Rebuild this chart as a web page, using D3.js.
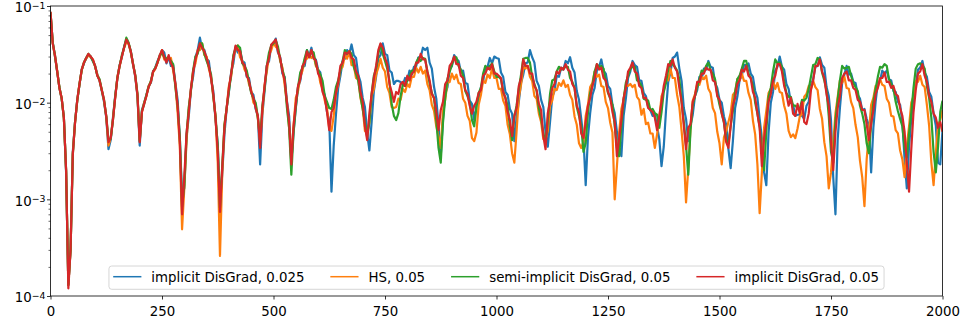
<!DOCTYPE html>
<html>
<head>
<meta charset="utf-8">
<script src="https://cdn.jsdelivr.net/npm/d3@7"></script>
<style>
  body { margin: 0; background: #fff; }
  svg { font-family: "DejaVu Sans", sans-serif; }
</style>
</head>
<body>
<svg id="chart" width="963" height="325"></svg>
<script>
// sample spacing of the series (one value every tStep units of x)
const tStep = 5;

// implicit DisGrad, 0.025 (blue)
const implicit025 = [
  .087,.042,.030,.021,.0142,.011,.0070,.0019,.00013,.00031,
  .0031,.0063,.0107,.0153,.022,.0255,.029,.031,.030,.027,
  .024,.0195,.0168,.0132,.0102,.0070,.0033,.0041,.0070,.0117,
  .018,.0245,.0295,.038,.045,.041,.034,.0255,.0185,.0117,
  .0036,.0084,.0100,.012,.0149,.016,.021,.023,.027,.030,
  .035,.033,.0255,.030,.024,.0245,.016,.0107,.0043,.0011,
  .0013,.0044,.0072,.0139,.019,.0295,.035,.047,.036,.035,
  .0285,.027,.0175,.0132,.0066,.0037,.00097,.0018,.0047,.0088,
  .0129,.0205,.0255,.038,.033,.035,.027,.026,.0185,.018,
  .0129,.012,.0086,.0072,.0023,.0075,.0132,.024,.027,.039,
  .041,.046,.033,.0295,.020,.0185,.0105,.0073,.0025,.0049,
  .0088,.0145,.0168,.0235,.024,.035,.030,.037,.0285,.028,
  .022,.0205,.0139,.012,.0080,.0065,.0012,.0036,.0075,.0142,
  .019,.027,.0285,.035,.032,.040,.031,.029,.0195,.0164,
  .0112,.009,.0049,.0032,.0063,.0132,.0185,.029,.031,.041,
  .032,.031,.0215,.0205,.0156,.0168,.0168,.0164,.0153,.018,
  .017,.0215,.0195,.0235,.024,.0295,.0295,.037,.035,.037,
  .026,.0225,.0145,.011,.0058,.0028,.0068,.0123,.0145,.022,
  .024,.031,.0285,.027,.021,.0215,.016,.0156,.0105,.0097,
  .0066,.0095,.0105,.0145,.0164,.0235,.0235,.029,.0255,.030,
  .029,.0285,.0205,.0185,.0129,.012,.0086,.0077,.0040,.0070,
  .0102,.016,.0195,.0255,.026,.035,.0295,.026,.0168,.0149,
  .0107,.009,.0049,.0035,.0063,.0115,.0132,.019,.0185,.023,
  .022,.027,.0255,.0295,.023,.0205,.0132,.0107,.0068,.0043,
  .0014,.0044,.0078,.012,.0142,.0215,.0235,.028,.0215,.020,
  .0149,.0139,.0095,.0078,.0050,.0035,.0028,.0073,.011,.018,
  .021,.027,.0245,.0235,.017,.0168,.0126,.0117,.009,.0084,
  .0073,.0075,.0057,.0042,.0022,.0035,.0082,.0164,.0205,.029,
  .030,.033,.0225,.0168,.0088,.0068,.0040,.0058,.0075,.0117,
  .0135,.0185,.0175,.0225,.022,.027,.0235,.023,.016,.0142,
  .0107,.0100,.0072,.0059,.0033,.0021,.0040,.0088,.0115,.017,
  .019,.0245,.0245,.0255,.020,.0185,.0132,.0112,.0068,.0043,
  .0019,.0014,.0049,.0100,.0129,.0215,.0235,.030,.0235,.022,
  .0156,.0139,.0100,.0095,.0073,.0075,.0075,.0073,.0068,.0093,
  .0102,.0153,.0175,.0235,.024,.0295,.0245,.023,.0145,.0117,
  .0066,.0017,.00070,.0042,.0088,.016,.0195,.024,.0195,.020,
  .0164,.016,.012,.011,.0084,.0086,.0068,.0058,.0019,.0055,
  .0102,.016,.0168,.0215,.020,.0215,.0175,.017,.0132,.0129,
  .0102,.0095,.0062,.0026,.0013,.0035,.0068,.0117,.0145,.022,
  .023,.027,.0205,.0185,.0129,.0115,.0078,.0058,.0024,.0023,
  .0052
];

// HS, 0.05 (orange)
const hs05 = [
  .087,.041,.030,.0215,.0142,.0112,.0068,.0020,.00013,.00030,
  .0030,.0062,.0105,.0156,.0215,.026,.0285,.031,.0295,.028,
  .0235,.0195,.017,.0135,.0105,.0072,.0036,.0043,.0068,.0112,
  .0185,.024,.030,.037,.042,.041,.033,.0255,.019,.012,
  .0041,.0080,.0100,.0117,.0149,.0164,.0205,.0225,.026,.0295,
  .035,.028,.029,.0285,.029,.0215,.0156,.0080,.0035,.00049,
  .0013,.0040,.0086,.0139,.022,.0255,.035,.035,.041,.031,
  .030,.0225,.0185,.0115,.0073,.0024,.00026,.0018,.0059,.0088,
  .0149,.0185,.0295,.036,.039,.0295,.027,.022,.0205,.0156,
  .0135,.0100,.0095,.0068,.0041,.0078,.0153,.021,.031,.035,
  .042,.038,.036,.027,.023,.0153,.0100,.0055,.0028,.0058,
  .0112,.0132,.0185,.0215,.028,.0285,.031,.029,.031,.024,
  .022,.016,.0139,.0105,.0088,.0054,.0051,.0073,.0126,.0156,
  .022,.0235,.031,.0285,.034,.0245,.0245,.018,.0175,.0112,
  .0088,.0051,.0049,.0062,.0117,.0139,.0195,.023,.0285,.023,
  .021,.0145,.0126,.009,.0088,.009,.011,.0107,.0139,.0129,
  .0156,.0145,.0185,.0185,.023,.0205,.0235,.020,.0215,.0156,
  .0135,.0095,.0082,.0057,.0045,.0034,.0082,.0107,.016,.0164,
  .020,.0175,.0195,.016,.0156,.011,.0100,.0073,.0065,.0043,
  .0040,.0049,.0095,.012,.017,.016,.0195,.018,.0225,.018,
  .018,.0139,.0139,.0105,.0093,.0059,.0047,.0030,.0024,.0050,
  .0112,.0153,.0235,.0225,.024,.0185,.0168,.0117,.011,.0077,
  .0063,.0042,.0042,.0051,.0093,.0105,.0139,.0135,.016,.0149,
  .017,.0145,.0153,.012,.0107,.0072,.0059,.0038,.0034,.0039,
  .0073,.0095,.0145,.016,.021,.0185,.0195,.0149,.0145,.0102,
  .0088,.0062,.0049,.0010,.0022,.0049,.0086,.0107,.0153,.0149,
  .0156,.0145,.0153,.0115,.0107,.0075,.0086,.0060,.0062,.0048,
  .0048,.0034,.0047,.0068,.0117,.0132,.0175,.017,.0225,.018,
  .018,.012,.009,.0051,.0028,.00093,.0021,.0055,.0105,.0123,
  .0156,.0153,.0185,.0175,.019,.0139,.0126,.0088,.0078,.0050,
  .0038,.0023,.0044,.0051,.0063,.0078,.012,.0129,.0175,.017,
  .020,.0168,.0168,.0126,.0107,.0065,.0047,.0023,.00072,.0019,
  .0055,.0082,.0126,.0139,.017,.0139,.016,.0129,.0126,.0093,
  .0077,.0051,.0044,.0047,.0043,.0054,.0072,.0077,.0115,.0123,
  .0149,.0139,.0168,.0145,.0135,.0086,.0068,.0039,.0028,.0013,
  .0019,.0038,.0078,.0115,.017,.016,.0185,.0142,.0139,.0102,
  .0088,.0059,.0044,.0025,.0017,.00085,.0026,.0048,.0095,.0112,
  .0149,.0145,.0175,.0153,.0149,.011,.0100,.0073,.0072,.0052,
  .0048,.0032,.0026,.0017,.0036,.0057,.0100,.0117,.0168,.0164,
  .019,.0153,.0145,.0095,.0058,.0024,.0014,.0030,.0059,.0066,
  .0084
];

// semi-implicit DisGrad, 0.05 (green)
const semiImplicit05 = [
  .085,.042,.031,.021,.0145,.011,.0070,.0020,.00013,.00030,
  .0029,.0063,.0105,.0156,.022,.026,.029,.032,.030,.027,
  .024,.019,.0175,.0135,.0107,.0073,.0041,.0042,.0066,.0115,
  .018,.024,.031,.037,.047,.042,.034,.025,.0195,.0123,
  .0040,.0082,.0097,.012,.0145,.0168,.021,.023,.026,.031,
  .033,.0295,.0285,.029,.027,.025,.0145,.0093,.0044,.00084,
  .0014,.0047,.009,.0135,.022,.030,.032,.041,.041,.032,
  .027,.0235,.0195,.0117,.0073,.0036,.00082,.0022,.0059,.0088,
  .0132,.0195,.031,.037,.039,.037,.0255,.024,.0215,.0164,
  .0126,.011,.0100,.0070,.0041,.0093,.0139,.024,.033,.039,
  .041,.044,.038,.028,.022,.018,.009,.0055,.0018,.0050,
  .009,.0145,.0205,.023,.029,.035,.0295,.034,.033,.025,
  .0215,.0195,.0168,.0117,.0102,.0088,.0086,.0107,.0145,.017,
  .0215,.027,.035,.032,.034,.032,.0235,.020,.0168,.0117,
  .0086,.0062,.0044,.0063,.0123,.019,.0225,.032,.040,.032,
  .027,.0225,.0168,.0097,.0073,.0066,.0078,.0117,.0153,.0149,
  .0168,.0185,.0215,.021,.026,.029,.027,.029,.0285,.021,
  .016,.0126,.011,.0066,.0034,.0024,.0062,.0112,.0175,.021,
  .0245,.0295,.0295,.024,.022,.019,.0132,.0117,.0100,.0066,
  .0057,.009,.0126,.0142,.020,.024,.0225,.024,.0255,.021,
  .0185,.0185,.0175,.0129,.0112,.0093,.0057,.0041,.0072,.0093,
  .0139,.0195,.0285,.029,.029,.026,.0185,.0156,.0132,.0088,
  .0068,.0049,.0038,.0066,.0123,.017,.0175,.021,.0235,.022,
  .0225,.0235,.0235,.018,.0164,.0142,.009,.0073,.0057,.0031,
  .0038,.0078,.0126,.0149,.021,.025,.0235,.024,.0225,.0164,
  .0126,.011,.0095,.0058,.0034,.0028,.0057,.0107,.016,.019,
  .0225,.0235,.0235,.017,.0164,.0149,.011,.0107,.0105,.0084,
  .0086,.0078,.0075,.0055,.0080,.0129,.016,.022,.027,.025,
  .0235,.0215,.0175,.0102,.0063,.0036,.0018,.0052,.0095,.0117,
  .0145,.0175,.0215,.021,.024,.026,.0215,.020,.0175,.0123,
  .0095,.0078,.0062,.0041,.0038,.0058,.0082,.0129,.0175,.019,
  .0225,.027,.027,.020,.018,.0149,.0100,.0077,.0057,.0031,
  .0020,.0051,.0115,.0142,.021,.028,.0255,.026,.0235,.0164,
  .0126,.0115,.0115,.0093,.0093,.0088,.0086,.0107,.0105,.0112,
  .0139,.0185,.0245,.025,.029,.028,.0205,.017,.0132,.0073,
  .0031,.0024,.0065,.0107,.017,.024,.0225,.023,.0235,.019,
  .016,.0145,.0132,.0093,.0077,.0060,.0038,.0030,.0059,.0102,
  .0139,.0185,.0235,.023,.025,.024,.0175,.0156,.0139,.0102,
  .0082,.0068,.0057,.0034,.0027,.0048,.0078,.0142,.0225,.025,
  .0255,.0245,.0225,.0149,.0112,.0070,.0031,.0019,.0035,.0080,
  .0105
];

// implicit DisGrad, 0.05 (red)
const implicit05 = [
  .087,.041,.031,.021,.0142,.0112,.0070,.0020,.00012,.00030,
  .0029,.0062,.0107,.0156,.022,.026,.029,.032,.030,.028,
  .024,.019,.017,.0135,.0107,.0072,.0039,.0043,.0066,.0112,
  .018,.024,.030,.037,.045,.041,.034,.025,.019,.012,
  .0039,.0080,.0097,.0117,.0145,.0164,.021,.0225,.026,.031,
  .035,.0295,.026,.031,.0255,.023,.0156,.0093,.0039,.00070,
  .0017,.0048,.0080,.0142,.021,.028,.034,.041,.037,.034,
  .029,.024,.018,.0123,.0070,.0031,.00074,.0021,.0055,.0088,
  .0142,.020,.029,.039,.035,.034,.026,.0245,.019,.017,
  .0129,.0112,.0088,.0073,.0034,.0088,.0149,.024,.029,.040,
  .042,.045,.034,.029,.021,.017,.0102,.0063,.0023,.0058,
  .0097,.0149,.0175,.024,.026,.034,.0295,.035,.029,.027,
  .020,.018,.0129,.0112,.0080,.0052,.0080,.0088,.0126,.0164,
  .024,.026,.033,.032,.034,.029,.028,.021,.019,.0129,
  .0102,.0057,.0041,.0078,.0123,.018,.024,.035,.041,.037,
  .029,.025,.0156,.0129,.0102,.0129,.0123,.0156,.0164,.0149,
  .019,.017,.020,.021,.026,.026,.032,.028,.028,.021,
  .017,.0123,.0112,.0080,.0052,.0084,.0102,.0156,.017,.024,
  .026,.030,.025,.025,.019,.018,.0135,.0123,.0093,.0077,
  .0093,.0102,.0126,.0135,.019,.020,.023,.022,.025,.020,
  .020,.019,.018,.0129,.0112,.0080,.0066,.0045,.0073,.0088,
  .0149,.018,.028,.024,.024,.020,.020,.0149,.0135,.0097,
  .0084,.0045,.0033,.0078,.0102,.0142,.0156,.021,.020,.023,
  .022,.025,.022,.021,.0156,.0142,.0093,.0080,.0048,.0043,
  .0063,.0093,.0112,.0149,.018,.025,.022,.023,.018,.017,
  .0129,.0112,.0080,.0063,.0028,.0043,.0066,.0112,.0142,.021,
  .023,.026,.021,.020,.0149,.0142,.0112,.0112,.0088,.0084,
  .0080,.0070,.0052,.0073,.0102,.0149,.019,.025,.024,.028,
  .023,.021,.0142,.0102,.0058,.0033,.0055,.0060,.0102,.0117,
  .0164,.0164,.020,.020,.023,.022,.022,.017,.0164,.0117,
  .0107,.0077,.0063,.0039,.0034,.0057,.0093,.0112,.0156,.017,
  .022,.021,.024,.019,.018,.0129,.0112,.0077,.0055,.0022,
  .0043,.0063,.0102,.0123,.017,.019,.025,.025,.021,.0149,
  .0123,.0093,.0112,.0077,.0073,.0097,.0077,.0102,.0063,.0060,
  .0077,.0135,.017,.024,.024,.028,.021,.018,.0123,.0093,
  .0039,.0020,.0050,.0088,.0117,.018,.020,.021,.017,.017,
  .0142,.0135,.0107,.0102,.0084,.0084,.0060,.0041,.0060,.0084,
  .0123,.0142,.018,.018,.0205,.0164,.0164,.0142,.0149,.0123,
  .0117,.0088,.0073,.0050,.0024,.0012,.0033,.0080,.0135,.020,
  .021,.025,.019,.0164,.0117,.0102,.0077,.0070,.0055,.0063,
  .0050
];

const seriesNames = ["implicit DisGrad, 0.025", "HS, 0.05", "semi-implicit DisGrad, 0.05", "implicit DisGrad, 0.05"];
const seriesColors = ["#1f77b4", "#ff7f0e", "#2ca02c", "#d62728"];
const seriesData = [implicit025, hs05, semiImplicit05, implicit05];

const xTicks = [0, 250, 500, 750, 1000, 1250, 1500, 1750, 2000];
const yTicks = [1e-4, 1e-3, 1e-2, 1e-1];
const yTickExp = ["\u22124", "\u22123", "\u22122", "\u22121"];

const size = { left: 50.5, right: 942.5, top: 6, bottom: 296, font: 13.33 };

const svg = d3.select("#chart");

const x = d3.scaleLinear().domain([0, 2000]).range([size.left, size.right]);
const y = d3.scaleLog().domain([1e-4, 1e-1]).range([size.bottom, size.top]);

svg.append("defs").append("clipPath").attr("id", "plot-clip")
  .append("rect")
  .attr("x", size.left).attr("y", size.top)
  .attr("width", size.right - size.left).attr("height", size.bottom - size.top);

// lines, drawn in legend order so red ends on top
const line = d3.line()
  .x((d, i) => x(i * tStep))
  .y(d => y(d));

svg.append("g").attr("clip-path", "url(#plot-clip)")
  .selectAll("path")
  .data(seriesData)
  .join("path")
  .attr("d", d => line(d))
  .attr("fill", "none")
  .attr("stroke", (d, i) => seriesColors[i])
  .attr("stroke-width", 2.2)
  .attr("stroke-linejoin", "round")
  .attr("stroke-linecap", "butt");

// x axis
const gx = svg.append("g")
  .attr("transform", "translate(0," + size.bottom + ")")
  .call(d3.axisBottom(x).tickValues(xTicks).tickFormat(d3.format("d"))
    .tickSize(3.5).tickPadding(3.5).tickSizeOuter(0));
gx.select(".domain").remove();
gx.selectAll(".tick line").attr("stroke", "#000").attr("stroke-width", 0.8);
gx.selectAll(".tick text")
  .attr("fill", "#000")
  .attr("dy", "1.01em")
  .style("font-size", size.font + "px")
  .style("font-family", "DejaVu Sans");

// y axis, minor ticks first
const minor = [];
[1e-4, 1e-3, 1e-2].forEach(dec => {
  for (let m = 2; m <= 9; m++) minor.push(dec * m);
});
const gyMinor = svg.append("g")
  .attr("transform", "translate(" + size.left + ",0)")
  .call(d3.axisLeft(y).tickValues(minor).tickSize(2).tickFormat("").tickSizeOuter(0));
gyMinor.select(".domain").remove();
gyMinor.selectAll(".tick line").attr("stroke", "#000").attr("stroke-width", 0.6);

const gy = svg.append("g")
  .attr("transform", "translate(" + size.left + ",0)")
  .call(d3.axisLeft(y).tickValues(yTicks).tickSize(3.5).tickFormat("").tickSizeOuter(0));
gy.select(".domain").remove();
gy.selectAll(".tick line").attr("stroke", "#000").attr("stroke-width", 0.8);

const yLabels = svg.append("g").selectAll("text")
  .data(yTicks)
  .join("text")
  .attr("x", 45.5)
  .attr("y", d => y(d) + 6.3)
  .attr("text-anchor", "end")
  .style("font-size", size.font + "px")
  .attr("fill", "#000");
yLabels.append("tspan").text("10");
yLabels.append("tspan")
  .attr("dy", -3.5)
  .style("font-size", (size.font * 0.7) + "px")
  .text((d, i) => yTickExp[i]);

// frame
svg.append("rect")
  .attr("x", size.left).attr("y", size.top)
  .attr("width", size.right - size.left).attr("height", size.bottom - size.top)
  .attr("fill", "none").attr("stroke", "#000").attr("stroke-width", 0.8);

// legend, one row, centred at the bottom
const handleLen = 26.7, handlePad = 10.7, colSpace = 26.7, boxPad = 5;
const legend = svg.append("g");
const legBox = legend.append("rect");
const items = legend.selectAll("g.item")
  .data(seriesNames)
  .join("g").attr("class", "item");
items.append("line")
  .attr("x1", 0).attr("x2", handleLen)
  .attr("y1", 276.7).attr("y2", 276.7)
  .attr("stroke", (d, i) => seriesColors[i])
  .attr("stroke-width", 1.5)
  .attr("stroke-linecap", "square");
items.append("text")
  .attr("x", handleLen + handlePad)
  .attr("y", 281.5)
  .style("font-size", size.font + "px")
  .attr("fill", "#000")
  .text(d => d);

let offset = 0;
const offsets = [];
items.each(function () {
  offsets.push(offset);
  const w = d3.select(this).select("text").node().getComputedTextLength();
  offset += handleLen + handlePad + w + colSpace;
});
const inner = offset - colSpace;
const legLeft = (size.left + size.right) / 2 - inner / 2;
items.attr("transform", (d, i) => "translate(" + (legLeft + offsets[i]) + ",0)");
legBox
  .attr("x", legLeft - boxPad).attr("y", 266)
  .attr("width", inner + 2 * boxPad).attr("height", 23.3)
  .attr("rx", 2.8)
  .attr("fill", "#fff").attr("fill-opacity", 0.8)
  .attr("stroke", "#cccccc").attr("stroke-width", 0.8);
</script>
</body>
</html>
